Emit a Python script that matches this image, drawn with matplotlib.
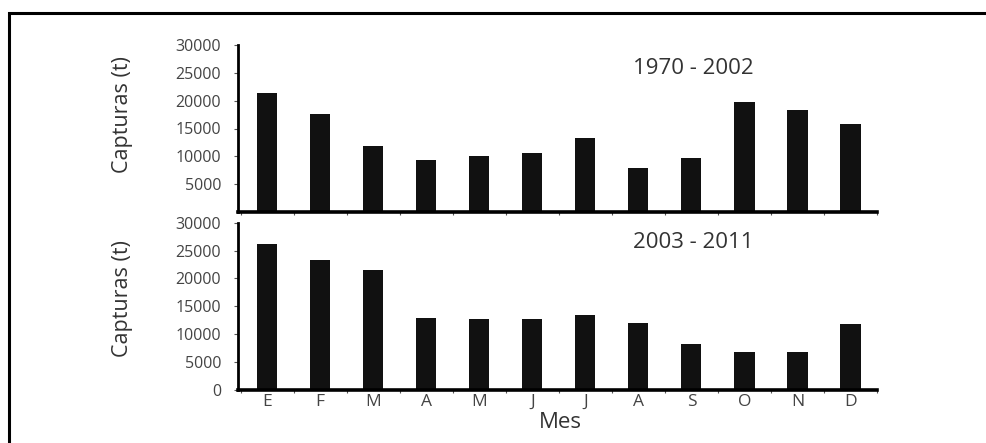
import matplotlib
matplotlib.use("Agg")
import matplotlib.pyplot as plt
import numpy as np
from matplotlib.patches import Rectangle

months = ["E", "F", "M", "A", "M", "J", "J", "A", "S", "O", "N", "D"]
capt_1970_2002 = [21300, 17600, 11900, 9300, 10000, 10600, 13300, 7900, 9700, 19800, 18300, 15800]
capt_2003_2011 = [26100, 23300, 21600, 13000, 12700, 12700, 13400, 12000, 8250, 6750, 6750, 11850]
period_labels = ["1970 - 2002", "2003 - 2011"]
top_yticks = [5000, 10000, 15000, 20000, 25000, 30000]
bottom_yticks = [0, 5000, 10000, 15000, 20000, 25000, 30000]

plt.rcParams['font.family'] = ['Open Sans', 'DejaVu Sans']
W, H = 986, 443
fig = plt.figure(figsize=(W / 100, H / 100), dpi=100)
fig.patch.set_facecolor("white")

# outer frame (right/bottom edges cut off in reference)
fig.add_artist(Rectangle((8.5 / W, -0.05), 1.1, 1 - 13 / H + 0.05,
                         transform=fig.transFigure, fill=False,
                         edgecolor="black", linewidth=2.2))

txt = "#333333"
left = 238 / W
width = (877 - 238) / W
ax1 = fig.add_axes([left, 1 - 212 / H, width, (212 - 45) / H])
ax2 = fig.add_axes([left, 1 - 390 / H, width, (390 - 222.7) / H])

x = np.arange(len(months))
cfg = [(ax1, capt_1970_2002, top_yticks, period_labels[0], 0.584, 0.86),
       (ax2, capt_2003_2011, bottom_yticks, period_labels[1], 0.544, 0.88)]
for ax, vals, yt, lab, ylab_y, lab_y in cfg:
    ax.bar(x, vals, width=0.38, color="#111111", zorder=2)
    ax.set_xlim(-0.55, 11.5)
    ax.set_ylim(0, 30000)
    ax.set_yticks(yt)
    ax.set_yticklabels([str(v) for v in yt], fontsize=11.5, color="#444444")
    ax.set_xticks(np.arange(-0.5, 12, 1.0))
    ax.set_xticklabels([])
    ax.tick_params(axis="x", length=2.5, width=0.8, color="#555555", direction="out")
    ax.tick_params(axis="y", length=3, width=0.8, color="#555555", direction="out", pad=9)
    for s in ["top", "right"]:
        ax.spines[s].set_visible(False)
    ax.spines["left"].set_linewidth(2)
    ax.spines["bottom"].set_linewidth(2.6)
    ax.set_ylabel("Capturas (t)", fontsize=15.5, color=txt)
    ax.yaxis.label.set_va("center")
    ax.yaxis.set_label_coords(-0.1815, ylab_y)
    ax.text(0.712, lab_y, lab, transform=ax.transAxes,
            ha="center", va="center", fontsize=16, color=txt)
    ax.set_facecolor("none")

# month labels below bottom panel
ax2.set_xticks(x, minor=True)
ax2.set_xticklabels(months, minor=True, fontsize=12.5, color="#444444")
ax2.tick_params(axis="x", which="minor", length=0, pad=3)
ax2.set_xlabel("Mes", fontsize=16, color=txt)
ax2.xaxis.label.set_va("center")
ax2.xaxis.set_label_coords((560 - 238) / 639, (390 - 423) / 167.3)

fig.savefig("out.png", dpi=100, facecolor="white")
